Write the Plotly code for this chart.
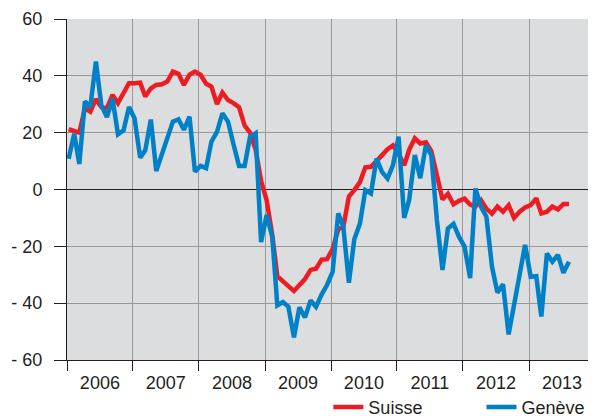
import pandas as pd
import plotly.graph_objects as go

# Monthly values, Jan 2006 .. Aug 2013
suisse = [21.2, 20.4, 20, 28.6, 27.4, 31.8, 29, 28.6, 33.3, 30.4, 34, 37.4,
          37.4, 37.6, 32.7, 35.6, 36.8, 37, 38, 41.5, 40.7, 36.8, 40.4, 41.5,
          40.4, 37.2, 36.2, 30.1, 34.1, 31.5, 30.4, 29, 22.5, 20, 14, 3,
          -3.8, -16, -30.5, -32.5, -34, -35.7, -33.5, -31.5, -28.3, -27.9, -24.7, -24.5,
          -21, -14, -13.2, -2.5, -0.2, 2.6, 7.8, 8, 10, 12, 14.2, 15.5,
          12.5, 8.5, 14, 18, 16.2, 16.6, 13.5, 5, -3.5, -1.5, -5.2, -4,
          -3.2, -5.3, -6, -3.8, -6.7, -8.5, -6, -7.8, -5.5, -10, -7.8, -6.3,
          -5.5, -3.1, -8.4, -7.8, -6, -7, -5.1, -5.1]

geneve = [10.8, 19.6, 9, 31, 29, 45, 29.6, 25.5, 32, 19.4, 20.8, 29,
          25, 11.2, 13.8, 24.6, 6.5, 12, 18, 23.9, 24.7, 21, 25.6, 6.3,
          8.3, 7.5, 16.8, 20.3, 26.8, 23.9, 16, 8.3, 8.3, 18.6, 19.8, -18.5,
          -9, -16.7, -40.8, -39.6, -41.2, -52, -41.5, -45, -39, -41.3, -37, -33.6,
          -29, -8.4, -13, -32.8, -17.5, -12, -0.2, -1.4, 10.9, 6.2, 3.9, 8.6,
          18.6, -10, -3.5, 12.1, 4, 15.5, 12.1, -10.7, -28.3, -13.7, -12.1, -16.6,
          -20.1, -31.2, 0.4, -6, -9.6, -27.2, -36.3, -33.3, -51, -40.5, -30, -19.5,
          -30.7, -30.5, -44.7, -22.5, -25.4, -23, -29.3, -25.4]

years = ["2006", "2007", "2008", "2009", "2010", "2011", "2012", "2013"]
y_ticks = [60, 40, 20, 0, -20, -40, -60]
y_labels = ["60", "40", "20", "0", "- 20", "- 40", "- 60"]

dates = pd.date_range("2006-01-01", periods=len(suisse), freq="MS") + pd.Timedelta(days=9)
year_mid = [f"{y}-07-02" for y in years]

RED = "#ED1C24"
BLUE = "#0080C6"
FONT = "Liberation Sans, Arial, sans-serif"
TXT = "#231F20"

fig = go.Figure()
fig.add_trace(go.Scatter(x=dates, y=suisse, mode="lines", name="Suisse",
                         line=dict(color=RED, width=4.5), legend="legend"))
fig.add_trace(go.Scatter(x=dates, y=geneve, mode="lines", name="Genève",
                         line=dict(color=BLUE, width=4.5), legend="legend2"))

leg_common = dict(orientation="h", yanchor="middle", y=-0.139, xanchor="left",
                  font=dict(size=18, color=TXT), bgcolor="rgba(0,0,0,0)",
                  itemwidth=30)

# page body adds an 8px offset; figure is sized to compensate
fig.update_layout(
    width=588, height=408,
    margin=dict(l=59, r=1, t=11, b=56, autoexpand=False),
    paper_bgcolor="white",
    plot_bgcolor="#DCDDDF",
    font=dict(family=FONT, size=18, color=TXT),
    showlegend=True,
    legend=dict(x=0.495, **leg_common),
    legend2=dict(x=0.785, **leg_common),
)

fig.update_xaxes(
    range=["2006-01-01", "2014-01-01"],
    automargin=False,
    tickvals=year_mid, ticktext=years, ticks="", showgrid=False,
    tickfont=dict(size=18, color=TXT),
    ticklabelstandoff=6,
    minor=dict(tick0="2006-01-01", dtick="M12", ticks="outside", ticklen=10,
               tickcolor="#231F20", tickwidth=1, showgrid=True,
               gridcolor="#999999", gridwidth=1),
    showline=True, linecolor="#231F20", linewidth=1,
    zeroline=False,
)

fig.update_yaxes(
    range=[-60, 60],
    automargin=False,
    tickvals=y_ticks, ticktext=y_labels,
    ticks="outside", ticklen=12, tickcolor="#231F20", tickwidth=1,
    tickfont=dict(size=18, color=TXT),
    ticklabelstandoff=8,
    showgrid=True, gridcolor="#999999", gridwidth=1,
    zeroline=True, zerolinecolor="#231F20", zerolinewidth=1,
    showline=True, linecolor="#231F20", linewidth=1,
)

fig.write_html("out.html")
